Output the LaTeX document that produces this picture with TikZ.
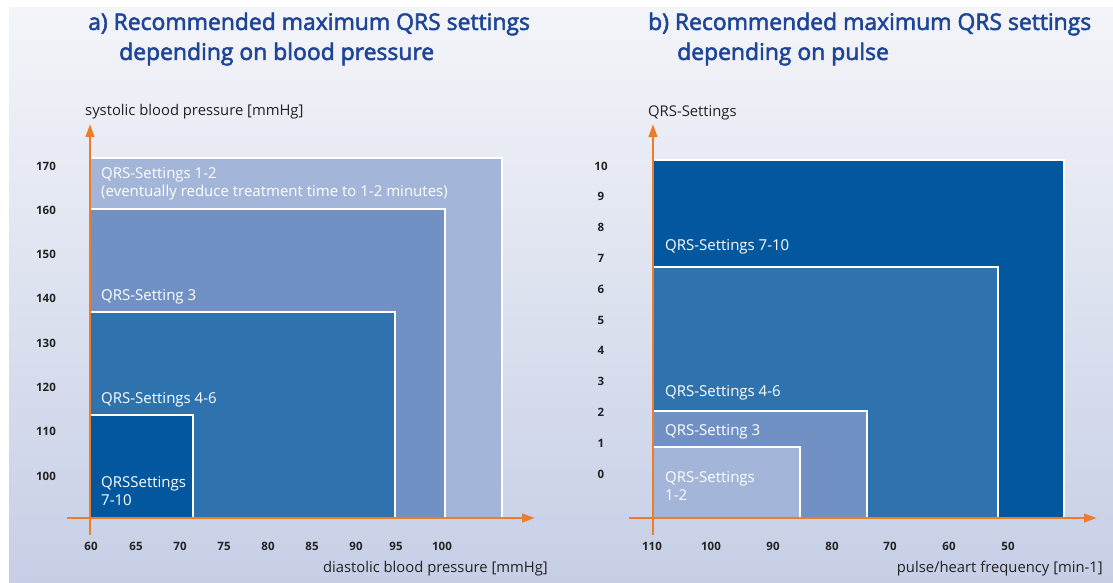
\documentclass[tikz,border=0pt]{standalone}
\usepackage{fontspec}
\setmainfont{Open Sans}
\newfontfamily\ttlfont[FakeBold=2.4]{Open Sans}
\usetikzlibrary{arrows.meta}

\definecolor{qrsA}{HTML}{A3B5D8}
\definecolor{qrsB}{HTML}{7191C5}
\definecolor{qrsC}{HTML}{2F73AE}
\definecolor{qrsD}{HTML}{03579F}
\definecolor{axisorange}{HTML}{EE7D2B}
\definecolor{titleblue}{HTML}{1E4597}
\definecolor{ticktext}{HTML}{222222}
\definecolor{bgtop}{HTML}{F4F5F9}
\definecolor{bgmid}{HTML}{E5E8F1}
\definecolor{bgbot}{HTML}{C6CFE6}

\begin{document}
\begin{tikzpicture}[x=1pt, y=-1pt,
    axis/.style={draw=axisorange, line width=2.6pt},
    axisarrow/.style={axis, -{Triangle[length=13pt, width=8.5pt]}},
    tick/.style={font=\fontsize{11.5}{12}\selectfont\bfseries, text=ticktext, inner sep=0pt},
    axlbl/.style={font=\fontsize{14.8}{16}\selectfont, text=ticktext, inner sep=0pt},
    boxlbl/.style={font=\fontsize{15}{18}\selectfont, text=white, inner sep=0pt, align=left, anchor=base west},
    ttl/.style={font=\fontsize{22.9}{30}\selectfont\ttlfont, text=titleblue, inner sep=0pt, anchor=west},
    rim/.style={draw=white, line width=1.3pt}
]
    \useasboundingbox (0,0) rectangle (1113,582);
    \shade[top color=bgtop, middle color=bgmid, bottom color=bgbot] (9,7) rectangle (1113,582);

    % --- a) BLOOD PRESSURE ---
    \node[ttl] (ta1) at (88,24) {a) Recommended maximum QRS settings};
    \node[ttl] (ta2) at (119,54) {depending on blood pressure};

    \fill[qrsA] (90,158) rectangle (502,518); \draw[rim] (90,158) -- (502,158) -- (502,518);
    \fill[qrsB] (90,209) rectangle (445,518); \draw[rim] (90,209) -- (445,209) -- (445,518);
    \fill[qrsC] (90,312) rectangle (395,518); \draw[rim] (90,312) -- (395,312) -- (395,518);
    \fill[qrsD] (90,415) rectangle (193,518); \draw[rim] (90,415) -- (193,415) -- (193,518);

    % multi-line labels: base = last line
    \node[boxlbl] (a12) at (101,196) {QRS-Settings 1-2\\(eventually reduce treatment time to 1-2 minutes)};
    \node[boxlbl] (a3) at (101,300) {QRS-Setting 3};
    \node[boxlbl] (a46) at (101,403) {QRS-Settings 4-6};
    \node[boxlbl] (a710) at (101,505) {QRSSettings\\7-10};

    \coordinate (ay0) at (90,535); \coordinate (ay1) at (90,124);
    \coordinate (ax0) at (67,518); \coordinate (ax1) at (535,518);
    \draw[axisarrow] (ay0) -- (ay1);
    \draw[axisarrow] (ax0) -- (ax1);

    \foreach \v [count=\i from 0] in {100,110,...,170}
        \node[tick] (ays\v) at (46,{476-44.3*\i}) {\v};
    \foreach \v/\x in {60/91,65/136,70/180,75/224,80/268,85/312,90/356,95/396,100/442}
        \node[tick] (axs\v) at (\x,546) {\v};

    \node[axlbl, anchor=west] (aylbl) at (85,112) {systolic blood pressure [mmHg]};
    \node[axlbl, anchor=east] (axlbl) at (548,569) {diastolic blood pressure [mmHg]};

    % --- b) PULSE ---
    \node[ttl] (tb1) at (648,24) {b) Recommended maximum QRS settings};
    \node[ttl] (tb2) at (677,54) {depending on pulse};

    \fill[qrsD] (653,160) rectangle (1064,518); \draw[rim] (653,160) -- (1064,160) -- (1064,518);
    \fill[qrsC] (653,267) rectangle (998,518); \draw[rim] (653,267) -- (998,267) -- (998,518);
    \fill[qrsB] (653,411) rectangle (867,518); \draw[rim] (653,411) -- (867,411) -- (867,518);
    \fill[qrsA] (653,447) rectangle (800,518); \draw[rim] (653,447) -- (800,447) -- (800,518);

    \node[boxlbl] (b710) at (665,250) {QRS-Settings 7-10};
    \node[boxlbl] (b46) at (665,396) {QRS-Settings 4-6};
    \node[boxlbl] (b3) at (665,435) {QRS-Setting 3};
    \node[boxlbl] (b12) at (665,500) {QRS-Settings\\1-2};

    \coordinate (by0) at (653,535); \coordinate (by1) at (653,124);
    \coordinate (bx0) at (629,518); \coordinate (bx1) at (1097,518);
    \draw[axisarrow] (by0) -- (by1);
    \draw[axisarrow] (bx0) -- (bx1);

    \foreach \v [count=\i from 0] in {0,...,10}
        \node[tick] (bys\v) at (601,{474-30.8*\i}) {\v};
    \foreach \v/\x in {110/652,100/711,90/773,80/832,70/890,60/949,50/1008}
        \node[tick] (bxs\v) at (\x,546) {\v};

    \node[axlbl, anchor=west] (bylbl) at (648,113) {QRS-Settings};
    \node[axlbl, anchor=east] (bxlbl) at (1103,569) {pulse/heart frequency [min-1]};
\end{tikzpicture}
\end{document}
